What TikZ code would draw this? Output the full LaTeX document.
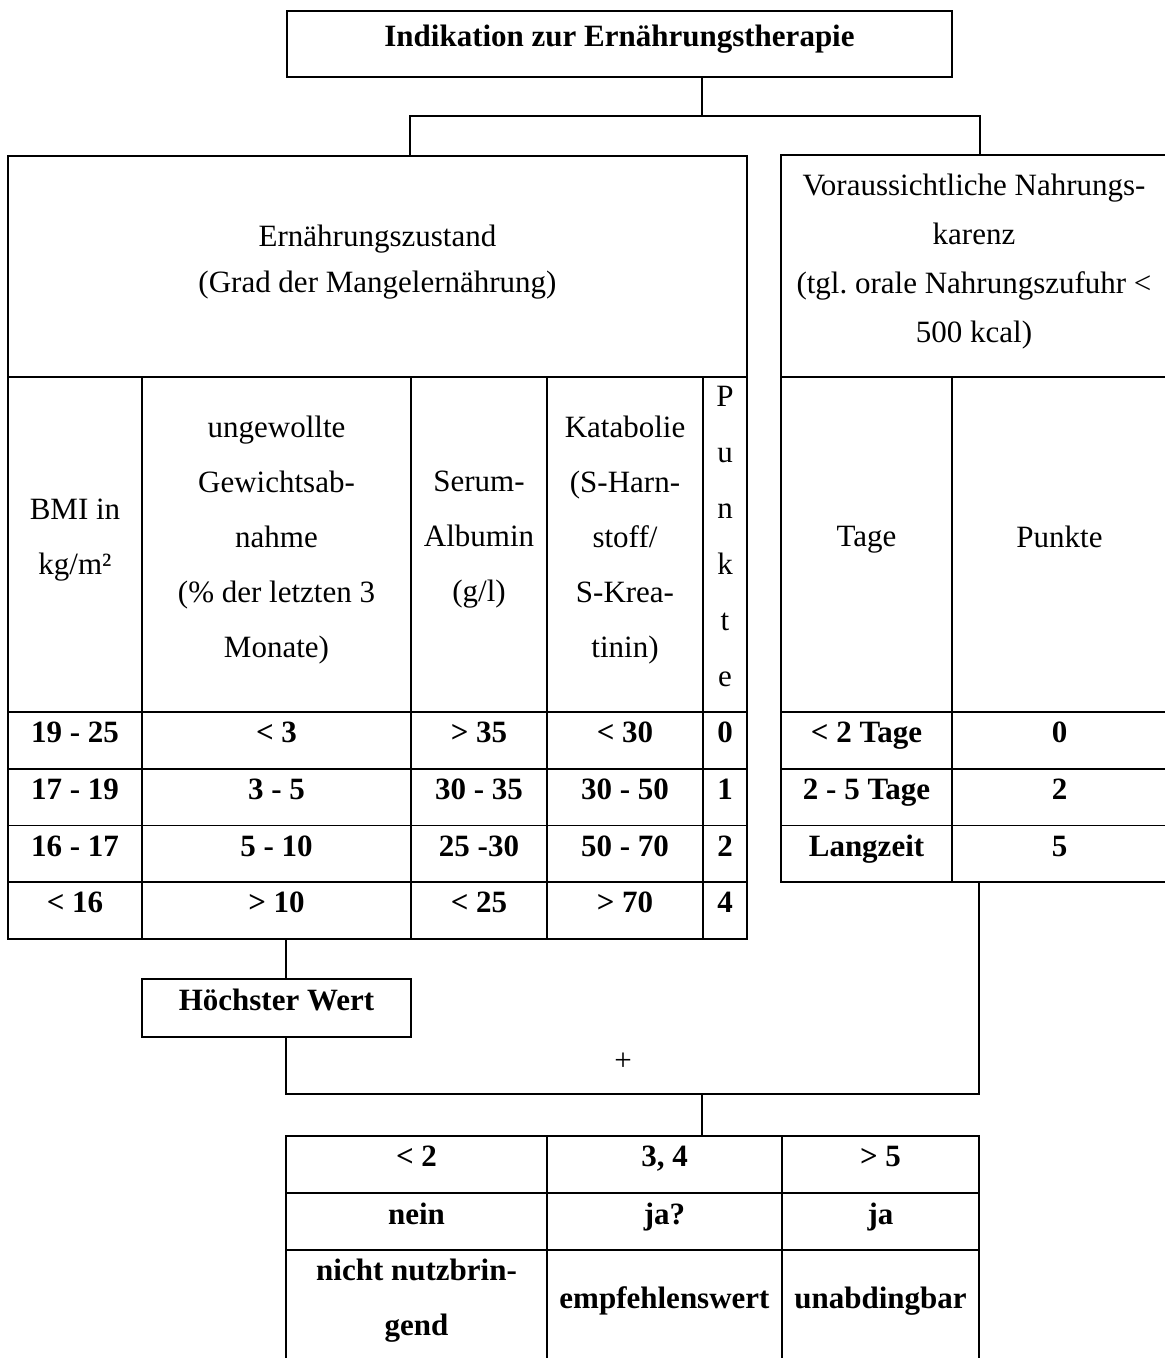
\documentclass[tikz,border=0pt]{standalone}
\usepackage{fontspec}
\setmainfont{Liberation Serif}
\frenchspacing

\begin{document}
\begin{tikzpicture}[x=0.5pt, y=-0.5pt,
    cellbox/.style 2 args={draw, line width=0.85pt, inner sep=0pt, outer sep=0pt,
      anchor=north west, align=center, text depth=8pt,
      minimum width={(#1)*0.5pt}, minimum height={(#2)*0.5pt},
      font=\fontsize{15.5pt}{27.5pt}\selectfont},
    rahmen/.style 2 args={draw, line width=1.4pt, inner sep=0pt, outer sep=0pt,
      anchor=north west, minimum width={(#1)*0.5pt}, minimum height={(#2)*0.5pt}},
    fett/.style={font=\bfseries\fontsize{15.5pt}{27.5pt}\selectfont},
    conn/.style={line width=1.35pt}]
  \useasboundingbox (0,0) rectangle (1164,1358);

  \node[cellbox={665}{66}, fett, line width=1.4pt] (title) at (287,11) {Indikation zur Ernährungstherapie};

  % Ernaehrungszustand
  \node[cellbox={739}{221}, line width=1.4pt, font=\fontsize{15.5pt}{23pt}\selectfont] (zustand) at (8,156)
    {Ernährungszustand\\(Grad der Mangelernährung)};
  \node[cellbox={134}{335}] (bmi) at (8,377) {BMI in\\kg/m²};
  \node[cellbox={269}{335}] (gew) at (142,377) {ungewollte\\Gewichtsab-\\nahme\\(\% der letzten 3\\Monate)};
  \node[cellbox={136}{335}] (alb) at (411,377) {Serum-\\Albumin\\(g/l)};
  \node[cellbox={156}{335}] (kat) at (547,377) {Katabolie\\(S-Harn-\\stoff/\\S-Krea-\\tinin)};
  \node[cellbox={44}{335}, font=\fontsize{15.5pt}{28pt}\selectfont] (pkt) at (703,377) {P\\u\\n\\k\\t\\e};
  \foreach \y/\a/\b/\c/\d/\e [count=\i] in {712/19 - 25/< 3/> 35/< 30/0,
      768.75/17 - 19/3 - 5/30 - 35/30 - 50/1,
      825.5/16 - 17/5 - 10/25 -30/50 - 70/2,
      882.25/< 16/> 10/< 25/> 70/4} {
    \node[cellbox={134}{56.75}, fett] (bmi\i) at (8,\y) {\a};
    \node[cellbox={269}{56.75}, fett] (gew\i) at (142,\y) {\b};
    \node[cellbox={136}{56.75}, fett] (alb\i) at (411,\y) {\c};
    \node[cellbox={156}{56.75}, fett] (kat\i) at (547,\y) {\d};
    \node[cellbox={44}{56.75}, fett] (pkt\i) at (703,\y) {\e};
  }
  \node[rahmen={739}{783}] (links) at (8,156) {};

  % Nahrungskarenz
  \node[cellbox={386}{222}, line width=1.4pt, font=\fontsize{15.5pt}{24.5pt}\selectfont] (karenz) at (781,155)
    {Voraussichtliche Nahrungs-\\karenz\\(tgl. orale Nahrungszufuhr <\\500 kcal)};
  \node[cellbox={171}{335}] (tage) at (781,377) {Tage};
  \node[cellbox={215}{335}] (punkte) at (952,377) {Punkte};
  \foreach \y/\a/\b [count=\i] in {712/< 2 Tage/0, 768.75/2 - 5 Tage/2, 825.5/Langzeit/5} {
    \node[cellbox={171}{56.75}, fett] (tage\i) at (781,\y) {\a};
    \node[cellbox={215}{56.75}, fett] (punkte\i) at (952,\y) {\b};
  }
  \node[rahmen={386}{727}] (rechts) at (781,155) {};

  \node[cellbox={269}{58}, fett, line width=1.4pt] (hw) at (142,979) {Höchster Wert};
  \node[font=\fontsize{15.5pt}{18pt}\selectfont] (plus) at (623,1062) {+};

  % Ergebnis
  \foreach \x/\w/\a/\b/\c [count=\i] in {286/261/{< 2}/nein/{nicht nutzbrin-\\gend},
      547/235/{3, 4}/ja?/empfehlenswert, 782/197/{> 5}/ja/unabdingbar} {
    \node[cellbox={\w}{57}, fett] (wert\i) at (\x,1136) {\a};
    \node[cellbox={\w}{57}, fett] (ja\i) at (\x,1193) {\b};
    \node[cellbox={\w}{111}, fett] (urteil\i) at (\x,1250) {\c};
  }
  \node[rahmen={693}{225}] (ergebnis) at (286,1136) {};

  % Verbindungen
  \coordinate (split) at (702,116);
  \coordinate (jl) at (410,116);
  \coordinate (jr) at (980,116);
  \coordinate (sl) at (286,1094);
  \coordinate (sm) at (702,1094);
  \coordinate (sr) at (979,1094);
  \draw[conn] (title.south -| split) -- (split);
  \draw[conn] (jl |- links.north) -- (jl) -- (jr) -- (jr |- rechts.north);
  \draw[conn] (links.south -| sl) -- (hw.north -| sl);
  \draw[conn] (hw.south -| sl) -- (sl) -- (sr) -- (rechts.south -| sr);
  \draw[conn] (sm) -- (ergebnis.north -| sm);
\end{tikzpicture}
\end{document}
